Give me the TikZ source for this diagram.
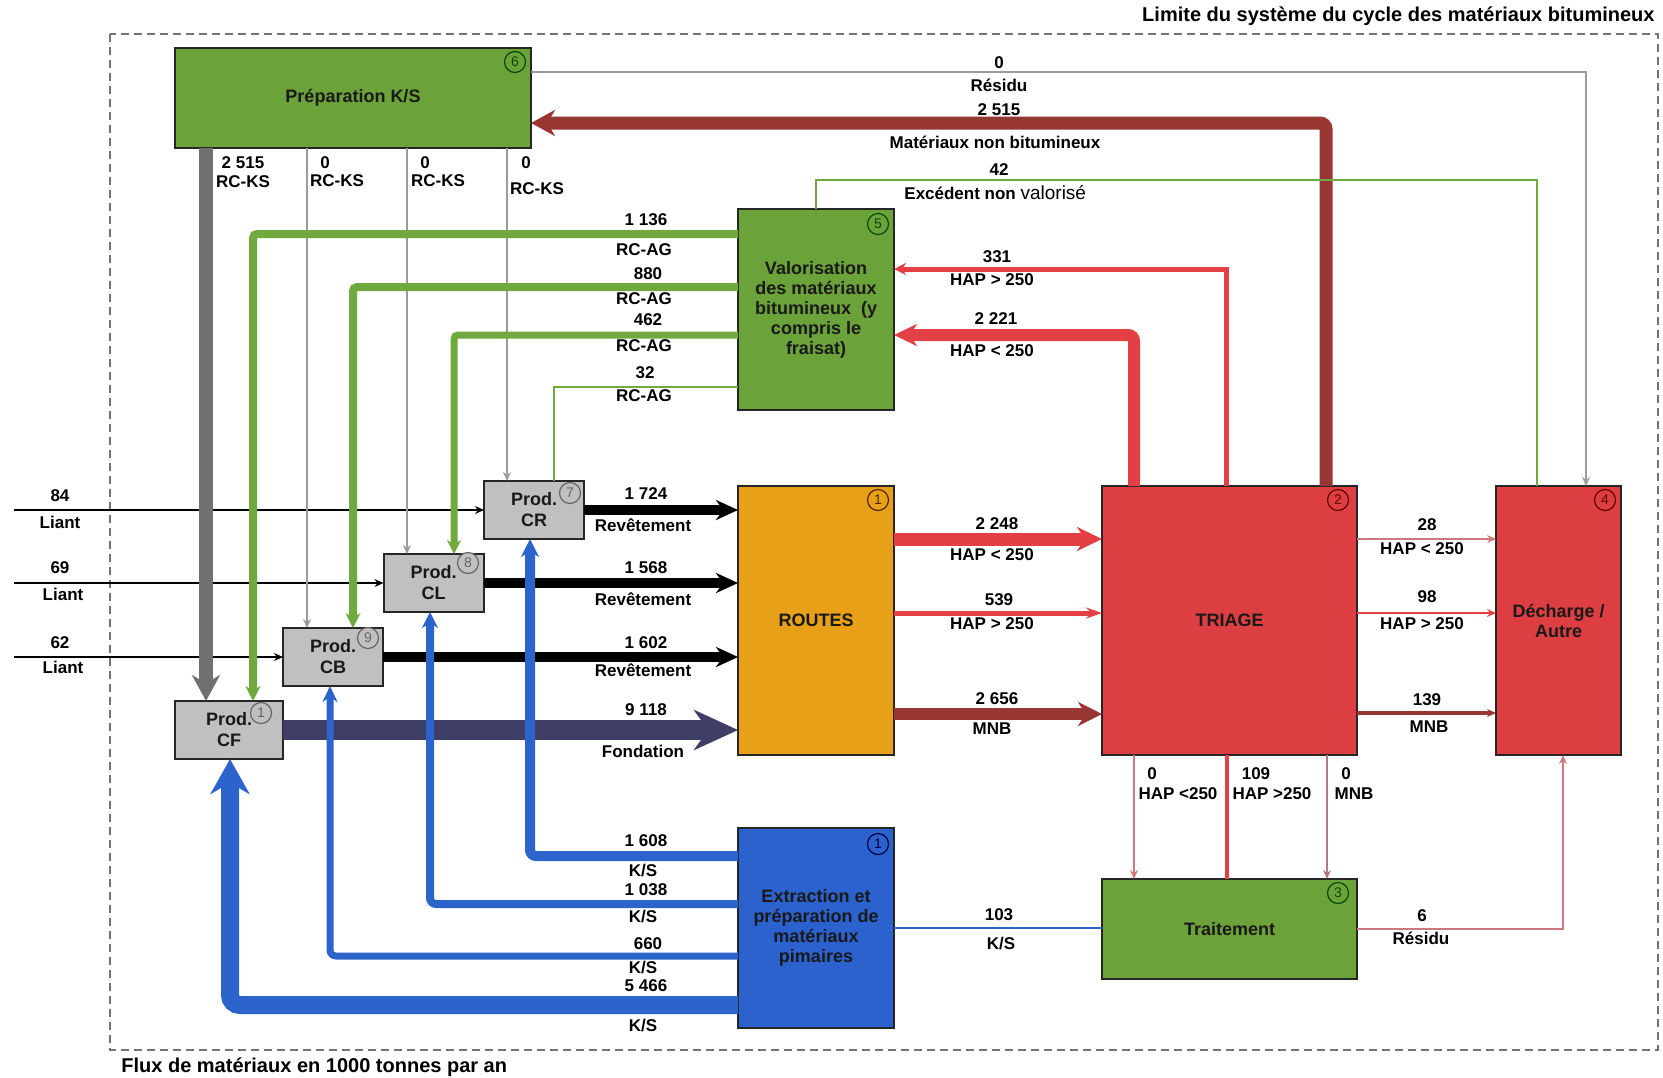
\documentclass[tikz,border=0pt]{standalone}
\usepackage{fontspec}
\setmainfont{Liberation Sans}
\usetikzlibrary{arrows.meta}

\definecolor{boxgreen}{RGB}{108,162,58}
\definecolor{boxorange}{RGB}{233,160,25}
\definecolor{boxred}{RGB}{221,62,66}
\definecolor{boxblue}{RGB}{43,98,206}
\definecolor{boxgrey}{RGB}{192,192,192}
\definecolor{flowgreen}{RGB}{112,170,62}
\definecolor{flowred}{RGB}{227,64,70}
\definecolor{flowblue}{RGB}{44,100,204}
\definecolor{flowdark}{RGB}{152,54,52}
\definecolor{flownavy}{RGB}{62,62,102}
\definecolor{flowgrey}{RGB}{112,112,112}
\definecolor{linegrey}{RGB}{155,155,155}
\definecolor{linepink}{RGB}{205,120,125}

\begin{document}
\begin{tikzpicture}[x=0.5pt,y=-0.5pt,
  every node/.style={font=\fontsize{8.5}{10}\selectfont\bfseries,inner sep=0pt},
  box/.style={draw=black!85,line width=1pt,inner sep=0pt,outer sep=0pt,align=center,
    text=black!90,font=\fontsize{9}{10}\selectfont\bfseries},
  prod/.style={box,fill=boxgrey,minimum width=50pt,minimum height=29pt,
    font=\fontsize{9}{10.5}\selectfont\bfseries},
  num/.style={circle,draw=#1,text=#1,line width=0.6pt,minimum size=10.5pt,
    font=\fontsize{7}{7}\selectfont},
  hair/.style={line width=1pt,-{Stealth[length=4.5pt,width=4pt]}},
  flow/.style n args={3}{line width=#1,-{Stealth[length=#2,width=#3]}},
]
\path[use as bounding box,fill=white] (0,0) rectangle (1663,1077);

% system boundary
\draw[black!55,line width=0.6pt,dash pattern=on 4pt off 2.5pt] (110,34) rectangle (1658,1050);
\node[anchor=east,font=\fontsize{10}{12}\selectfont\bfseries] (limite) at (1655,16)
  {Limite du système du cycle des matériaux bitumineux};
\node[anchor=west,font=\fontsize{10}{12}\selectfont\bfseries] (unite) at (121,1067)
  {Flux de matériaux en 1000 tonnes par an};

% process boxes
\node[box,fill=boxgreen,minimum width=178pt,minimum height=50pt] (prep) at (353,98) {Préparation K/S};
\node[box,fill=boxgreen,minimum width=78pt,minimum height=100.5pt] (valo) at (816,309.5)
  {Valorisation\\des matériaux\\bitumineux\ \ (y\\compris le\\fraisat)};
\node[box,fill=boxorange,minimum width=78pt,minimum height=134.5pt] (routes) at (816,620.5) {ROUTES};
\node[box,fill=boxred,minimum width=127.5pt,minimum height=134.5pt] (triage) at (1229.5,620.5) {TRIAGE};
\node[box,fill=boxred,minimum width=62.5pt,minimum height=134.5pt] (decharge) at (1558.5,620.5) {Décharge /\\Autre};
\node[box,fill=boxgreen,minimum width=127.5pt,minimum height=50pt] (traitement) at (1229.5,929) {Traitement};
\node[box,fill=boxblue,minimum width=78pt,minimum height=100pt] (extraction) at (816,928)
  {Extraction et\\préparation de\\matériaux\\pimaires};

% production plants
\node[prod] (prodCR) at (534,510) {Prod.\\CR};
\node[prod] (prodCL) at (433.5,583) {Prod.\\CL};
\node[prod] (prodCB) at (333,657) {Prod.\\CB};
\node[prod,minimum width=54pt] (prodCF) at (229,730) {Prod.\\CF};

% numbers of the processes
\node[num=black!70!green] (n6) at (515,62) {6};
\node[num=black!70!green] (n5) at (878,224) {5};
\node[num=black!70!orange] (n1r) at (878,500) {1};
\node[num=black!60!red] (n2) at (1338,500) {2};
\node[num=black!60!red] (n4) at (1605,500) {4};
\node[num=black!70!green] (n3) at (1338,893) {3};
\node[num=black!75!blue] (n1e) at (878,844) {1};
\node[num=black!60,fill=boxgrey] (n7) at (570,493) {7};
\node[num=black!60,fill=boxgrey] (n8) at (468,563) {8};
\node[num=black!60,fill=boxgrey] (n9) at (368,638) {9};
\node[num=black!60,fill=boxgrey] (n1f) at (261,713) {1};

% binder
\coordinate (inCR) at (14,510);
\coordinate (inCL) at (14,583);
\coordinate (inCB) at (14,657);
\draw[hair,line width=1.3pt] (inCR) -- (prodCR.west);
\draw[hair,line width=1.3pt] (inCL) -- (prodCL.west);
\draw[hair,line width=1.3pt] (inCB) -- (prodCB.west);

% mixes to the roads
\draw[flow={5pt}{11pt}{10pt}] (prodCR.east) -- (routes.west |- prodCR.east);
\draw[flow={5pt}{11pt}{10pt}] (prodCL.east) -- (routes.west |- prodCL.east);
\draw[flow={5pt}{11pt}{10pt}] (prodCB.east) -- (routes.west |- prodCB.east);
\draw[flownavy,flow={10pt}{22pt}{20pt}] (prodCF.east) -- (routes.west |- prodCF.east);

% K/S preparation
\draw[flowgrey,flow={7pt}{13pt}{14pt}] (prep.south -| 206,0) -- (prodCF.north -| 206,0);
\draw[linegrey,hair,line width=0.8pt] (prep.south -| 307,0) -- (prodCB.north -| 307,0);
\draw[linegrey,hair,line width=0.8pt] (prep.south -| 407,0) -- (prodCL.north -| 407,0);
\draw[linegrey,hair,line width=0.8pt] (prep.south -| 507,0) -- (prodCR.north -| 507,0);
\draw[linegrey,hair,line width=0.8pt] (prep.east |- 0,72) -| (decharge.north -| 1586,0);
\draw[flowdark,flow={6.5pt}{12pt}{13pt},rounded corners=3pt] (triage.north -| 1326,0) |- (prep.east |- 0,123);

% recycled asphalt
\coordinate (c42) at (1537,180);
\draw[flowgreen,line width=1pt] (valo.north) |- (c42) -- (decharge.north -| c42);
\draw[flowgreen,flow={4pt}{7.5pt}{7.5pt},rounded corners=2pt] (valo.west |- 0,234) -| (prodCF.north -| 253,0);
\draw[flowgreen,flow={4pt}{7.5pt}{7.5pt},rounded corners=2pt] (valo.west |- 0,287) -| (prodCB.north -| 353,0);
\draw[flowgreen,flow={3.5pt}{7pt}{7pt},rounded corners=2pt] (valo.west |- 0,335) -| (prodCL.north -| 454,0);
\draw[flowgreen,line width=1.2pt] (valo.west |- 0,387) -| (prodCR.north -| 554,0);

% sorting
\draw[flowred,flow={2.5pt}{6pt}{6pt}] (triage.north -| 1226,0) |- (valo.east |- 0,269);
\draw[flowred,flow={6pt}{11.5pt}{11pt},rounded corners=3pt] (triage.north -| 1134,0) |- (valo.east |- 0,335);
\draw[flowred,flow={6.5pt}{12.5pt}{12pt}] (routes.east |- 0,539) -- (triage.west |- 0,539);
\draw[flowred,flow={2.5pt}{8pt}{5.5pt}] (routes.east |- 0,613) -- (triage.west |- 0,613);
\draw[flowdark,flow={6pt}{12pt}{12pt}] (routes.east |- 0,714) -- (triage.west |- 0,714);
\draw[linepink,hair] (triage.east |- 0,539) -- (decharge.west |- 0,539);
\draw[flowred,hair] (triage.east |- 0,613) -- (decharge.west |- 0,613);
\draw[flowdark,hair,line width=1.8pt] (triage.east |- 0,713) -- (decharge.west |- 0,713);
\draw[linepink,hair,line width=0.8pt] (triage.south -| 1134,0) -- (traitement.north -| 1134,0);
\draw[flowred,line width=1.8pt] (triage.south -| 1227,0) -- (traitement.north -| 1227,0);
\draw[linepink!70!gray,hair,line width=0.8pt] (triage.south -| 1327,0) -- (traitement.north -| 1327,0);
\draw[linepink,hair,line width=0.8pt] (traitement.east) -| (decharge.south -| 1563,0);

% primary materials
\draw[flowblue,line width=1.3pt] (extraction.east) -- (traitement.west |- extraction.east);
\draw[flowblue,flow={5pt}{9pt}{9pt},rounded corners=3pt] (extraction.west |- 0,856) -| (prodCR.south -| 530,0);
\draw[flowblue,flow={4pt}{8pt}{8pt},rounded corners=3pt] (extraction.west |- 0,904) -| (prodCL.south -| 430,0);
\draw[flowblue,flow={3.5pt}{8pt}{7.5pt},rounded corners=3pt] (extraction.west |- 0,956) -| (prodCB.south -| 330,0);
\draw[flowblue,flow={9pt}{17.5pt}{19.5pt},rounded corners=5pt] (extraction.west |- 0,1005) -| (prodCF.south -| 230,0);

% flow values
\node (t0r) at (999,63) {0};
\node (t0rt) at (999,85) {Résidu};
\node (t2515) at (999,110) {2 515};
\node (t2515t) at (995,142) {Matériaux non bitumineux};
\node (t42) at (999,170) {42};
\node[anchor=west] (t42t) at (904,193) {Excédent non {\mdseries\fontsize{9.5}{11}\selectfont valorisé}};
\node (k1) at (243,163) {2 515};
\node (k1t) at (243,182) {RC-KS};
\node (k2) at (325,163) {0};
\node (k2t) at (337,181) {RC-KS};
\node (k3) at (425,163) {0};
\node (k3t) at (438,181) {RC-KS};
\node (k4) at (526,163) {0};
\node (k4t) at (537,189) {RC-KS};
\node (g1) at (646,220) {1 136};
\node (g1t) at (644,250) {RC-AG};
\node (g2) at (648,274) {880};
\node (g2t) at (644,299) {RC-AG};
\node (g3) at (648,320) {462};
\node (g3t) at (644,346) {RC-AG};
\node (g4) at (645,373) {32};
\node (g4t) at (644,396) {RC-AG};
\node (r1) at (997,257) {331};
\node (r1t) at (992,280) {HAP > 250};
\node (r2) at (996,319) {2 221};
\node (r2t) at (992,351) {HAP < 250};
\node (l1) at (60,496) {84};
\node (l1t) at (60,522) {Liant};
\node (l2) at (60,568) {69};
\node (l2t) at (63,594) {Liant};
\node (l3) at (60,643) {62};
\node (l3t) at (63,667) {Liant};
\node (b1) at (646,494) {1 724};
\node (b1t) at (643,525) {Revêtement};
\node (b2) at (646,568) {1 568};
\node (b2t) at (643,599) {Revêtement};
\node (b3) at (646,643) {1 602};
\node (b3t) at (643,670) {Revêtement};
\node (b4) at (646,710) {9 118};
\node (b4t) at (643,751) {Fondation};
\node (s1) at (997,524) {2 248};
\node (s1t) at (992,555) {HAP < 250};
\node (s2) at (999,600) {539};
\node (s2t) at (992,624) {HAP > 250};
\node (s3) at (997,699) {2 656};
\node (s3t) at (992,729) {MNB};
\node (d1) at (1427,525) {28};
\node (d1t) at (1422,549) {HAP < 250};
\node (d2) at (1427,597) {98};
\node (d2t) at (1422,624) {HAP > 250};
\node (d3) at (1427,700) {139};
\node (d3t) at (1429,727) {MNB};
\node (e1) at (1152,774) {0};
\node (e1t) at (1178,794) {HAP <250};
\node (e2) at (1256,774) {109};
\node (e2t) at (1272,794) {HAP >250};
\node (e3) at (1346,774) {0};
\node (e3t) at (1354,794) {MNB};
\node (p1) at (646,841) {1 608};
\node (p1t) at (643,870) {K/S};
\node (p2) at (646,890) {1 038};
\node (p2t) at (643,916) {K/S};
\node (p3) at (648,944) {660};
\node (p3t) at (643,967) {K/S};
\node (p4) at (646,986) {5 466};
\node (p4t) at (643,1025) {K/S};
\node (p5) at (999,915) {103};
\node (p5t) at (1001,943) {K/S};
\node (res6) at (1422,916) {6};
\node (res6t) at (1421,938) {Résidu};
\end{tikzpicture}
\end{document}
